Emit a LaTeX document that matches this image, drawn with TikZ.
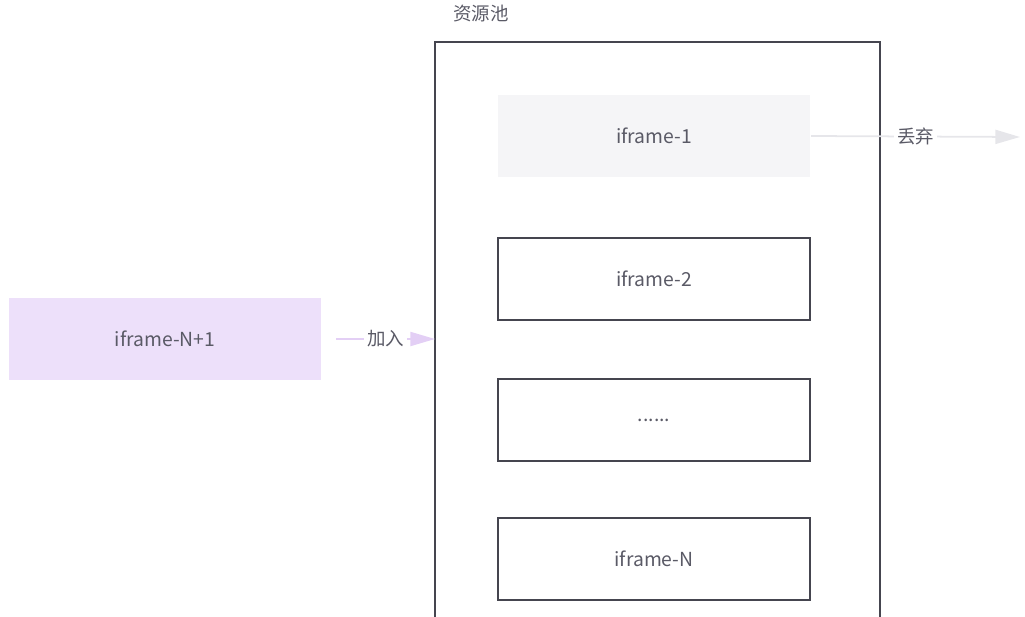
\documentclass[tikz,border=0pt]{standalone}
\usepackage{fontspec}
\setmainfont{Noto Sans CJK SC}
\usetikzlibrary{arrows.meta}
\definecolor{txt}{HTML}{5A5A66}
\definecolor{edge}{HTML}{45454F}
\definecolor{gfill}{HTML}{F5F5F7}
\definecolor{pfill}{HTML}{EDE0FA}
\definecolor{parrow}{HTML}{E3CFF5}
\definecolor{garrow}{HTML}{E6E6EA}
\begin{document}
\begin{tikzpicture}[x=0.02cm,y=-0.02cm,
  box/.style={draw=edge,line width=1.2pt,minimum width=312*0.02cm,minimum height=82*0.02cm,inner sep=0,text=txt,font=\fontsize{11}{13}\selectfont},
  lbl/.style={text=txt,font=\fontsize{10.5}{12}\selectfont}]
\useasboundingbox (0,0) rectangle (1025,616);
\draw[edge,line width=1.2pt] (435,700) -- (435,42) -- (880,42) -- (880,700);
\node[lbl] (t) at (481,14) {资源池};
\node[box,draw=none,fill=gfill] (b1) at (654,136) {iframe-1};
\node[box] (b2) at (654,279) {iframe-2};
\node[box] (b3) at (654,420) {......};
\node[box] (bn) at (654,559) {iframe-N};
\node[box,draw=none,fill=pfill] (bp) at (165,339) {iframe-N+1};
\coordinate (pin) at (435,339);
\coordinate (out) at (1020,137);
\draw[parrow,line width=1pt,-{Triangle[length=14pt,width=8pt]}] (bp.east)++(14,0) -- node[lbl,fill=white,inner sep=2pt] {加入} (pin);
\draw[garrow,line width=1pt,-{Triangle[length=14pt,width=8pt]}] (b1.east) -- node[lbl,fill=white,inner sep=2pt,pos=0.5] {丢弃} (out);
\end{tikzpicture}
\end{document}
